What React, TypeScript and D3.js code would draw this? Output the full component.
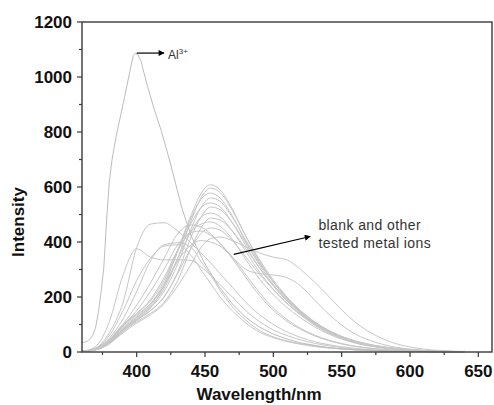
import React from "react"
import * as d3 from "d3"

// wavelength grid shared by the "blank and other ions" spectra
const wave = [360, 370, 380, 390, 400, 410, 420, 430, 440, 447, 454, 461, 470, 480, 490, 500, 510, 520, 530, 540, 550, 560, 575, 590, 605, 620, 640]

const otherSpectra = [
  [2, 8, 30, 75, 115, 160, 240, 370, 500, 575, 608, 590, 520, 420, 330, 255, 195, 145, 105, 75, 52, 36, 20, 11, 6, 3, 1],
  [2, 9, 35, 85, 125, 165, 230, 340, 480, 560, 596, 580, 515, 420, 335, 262, 200, 150, 110, 80, 56, 38, 21, 12, 6, 3, 1],
  [3, 10, 38, 90, 130, 175, 250, 365, 490, 555, 578, 560, 495, 400, 315, 245, 190, 142, 104, 75, 53, 37, 21, 12, 6, 3, 1],
  [2, 8, 32, 80, 120, 160, 220, 320, 450, 525, 560, 548, 490, 405, 325, 255, 195, 148, 108, 78, 55, 38, 22, 12, 6, 3, 1],
  [3, 12, 45, 100, 140, 185, 260, 370, 470, 525, 542, 528, 470, 385, 305, 240, 185, 140, 102, 73, 51, 35, 20, 11, 5, 3, 1],
  [2, 9, 35, 82, 118, 150, 200, 290, 420, 490, 527, 518, 470, 395, 320, 255, 198, 150, 110, 80, 57, 40, 23, 13, 7, 3, 1],
  [3, 11, 42, 95, 135, 175, 240, 340, 440, 490, 505, 492, 440, 365, 290, 228, 176, 134, 98, 70, 50, 34, 19, 10, 5, 2, 1],
  [2, 8, 30, 75, 110, 140, 180, 260, 380, 450, 487, 480, 440, 375, 305, 243, 190, 145, 107, 78, 56, 40, 23, 13, 7, 3, 1],
  [3, 12, 45, 100, 140, 190, 270, 370, 440, 465, 473, 458, 410, 335, 265, 208, 162, 124, 92, 66, 47, 32, 18, 10, 5, 2, 1],
  [2, 9, 33, 80, 115, 150, 200, 285, 380, 430, 451, 443, 405, 345, 282, 226, 178, 137, 102, 75, 54, 38, 22, 12, 6, 3, 1],
  [2, 8, 30, 70, 105, 135, 175, 240, 320, 380, 412, 418, 405, 382, 360, 345, 335, 300, 255, 205, 153, 108, 60, 30, 14, 6, 2],
  [2, 9, 35, 85, 125, 170, 240, 330, 390, 405, 400, 385, 345, 300, 285, 280, 270, 240, 190, 140, 98, 65, 35, 17, 8, 3, 1],
  [3, 14, 70, 180, 380, 465, 470, 440, 395, 360, 325, 285, 235, 180, 135, 100, 73, 53, 38, 27, 19, 13, 7, 4, 2, 1, 0],
  [2, 20, 110, 280, 375, 345, 335, 335, 333, 310, 280, 245, 200, 150, 110, 80, 60, 44, 32, 23, 16, 11, 6, 3, 2, 1, 0],
  [3, 12, 50, 120, 220, 330, 390, 397, 380, 330, 280, 225, 165, 115, 78, 55, 40, 30, 22, 16, 11, 8, 5, 3, 2, 1, 0],
  [2, 10, 40, 100, 170, 250, 340, 430, 462, 455, 430, 395, 340, 270, 205, 152, 112, 82, 59, 42, 29, 20, 11, 6, 3, 1, 0],
  [2, 9, 38, 95, 150, 220, 300, 390, 435, 440, 425, 395, 345, 280, 215, 160, 118, 86, 62, 44, 31, 21, 12, 6, 3, 1, 0],
  [3, 14, 60, 150, 260, 340, 385, 390, 350, 300, 250, 200, 150, 105, 72, 52, 38, 28, 20, 15, 11, 8, 5, 3, 2, 1, 0],
]

// Al3+ spectrum, own sampling (drawn with straight segments)
const alWave = [360, 362, 364, 366, 368, 370, 372, 374, 376, 378, 380, 382, 385, 390, 395, 397.5, 399, 401, 403, 408, 413, 418, 425, 433, 440, 450, 460, 470, 480, 490, 500, 510, 520, 540, 560, 580, 600, 620]
const alInt = [35, 36, 40, 48, 62, 90, 145, 220, 310, 480, 620, 700, 785, 900, 1020, 1078, 1087, 1080, 1060, 965, 880, 805, 680, 525, 420, 320, 240, 175, 125, 90, 65, 47, 33, 16, 8, 4, 2, 1]

const xTicks = [400, 450, 500, 550, 600, 650]
const xMinor = [375, 425, 475, 525, 575, 625]
const yTicks = [0, 200, 400, 600, 800, 1000, 1200]
const yMinor = [100, 300, 500, 700, 900, 1100]

const App = () => {
  const width = 494
  const height = 405
  const m = { left: 82, top: 22, right: 2, bottom: 53 }
  const font = "'Liberation Sans', Arial, sans-serif"
  const axisColor = "#3a3a3a"
  const lineColor = "#c6c6c6"

  const x = d3.scaleLinear().domain([360, 660]).range([m.left, width - m.right])
  const y = d3.scaleLinear().domain([0, 1200]).range([height - m.bottom, m.top])

  const smooth = d3
    .line<[number, number]>()
    .x((d) => x(d[0]))
    .y((d) => y(d[1]))
    .curve(d3.curveMonotoneX)

  const straight = d3
    .line<[number, number]>()
    .x((d) => x(d[0]))
    .y((d) => y(d[1]))

  const x0 = x.range()[0]
  const x1 = x.range()[1]
  const y0 = y.range()[0]
  const y1 = y.range()[1]

  return (
    <svg width={width} height={height} style={{ position: "absolute", left: 0, top: 0 }}>
      <defs>
        <marker id="arr" viewBox="0 0 10 10" refX="9" refY="5" markerWidth="7" markerHeight="6" orient="auto" markerUnits="userSpaceOnUse">
          <path d="M0,0 L10,5 L0,10 z" fill="#000" />
        </marker>
      </defs>

      <rect x={0} y={0} width={width} height={height} fill="#fff" />

      <g fill="none" stroke={lineColor} strokeWidth={1}>
        {otherSpectra.map((s, i) => (
          <path key={i} d={smooth(wave.map((w, j) => [w, s[j]]) as [number, number][]) || ""} />
        ))}
        <path stroke="#bcbcbc" d={straight(alWave.map((w, j) => [w, alInt[j]]) as [number, number][]) || ""} />
      </g>

      {/* frame */}
      <rect x={x0} y={y1} width={x1 - x0} height={y0 - y1} fill="none" stroke={axisColor} strokeWidth={1.4} />

      {/* ticks */}
      <g stroke={axisColor} strokeWidth={1.2}>
        {xTicks.map((t) => (
          <line key={t} x1={x(t)} x2={x(t)} y1={y0} y2={y0 + 5} />
        ))}
        {xMinor.map((t) => (
          <line key={t} x1={x(t)} x2={x(t)} y1={y0} y2={y0 + 3} />
        ))}
        {yTicks.map((t) => (
          <line key={t} x1={x0} x2={x0 - 5} y1={y(t)} y2={y(t)} />
        ))}
        {yMinor.map((t) => (
          <line key={t} x1={x0} x2={x0 - 3} y1={y(t)} y2={y(t)} />
        ))}
      </g>

      <g fontFamily={font} fontWeight="bold" fontSize={17} fill="#111">
        {xTicks.map((t) => (
          <text key={t} x={x(t)} y={y0 + 25} textAnchor="middle">
            {t}
          </text>
        ))}
        {yTicks.map((t) => (
          <text key={t} x={x0 - 10} y={y(t)} dy="0.36em" textAnchor="end">
            {t}
          </text>
        ))}
        <text x={259} y={400} textAnchor="middle">
          Wavelength/nm
        </text>
        <text transform="translate(24,222) rotate(-90)" textAnchor="middle">
          Intensity
        </text>
      </g>

      {/* annotations */}
      <line x1={x(400)} y1={y(1087)} x2={x(420)} y2={y(1087)} stroke="#000" strokeWidth={1.2} markerEnd="url(#arr)" />
      <text x={x(423)} y={y(1065)} fontFamily={font} fontSize={12} fill="#333">
        Al
        <tspan fontSize={8} dy={-5}>3+</tspan>
      </text>

      <line x1={x(471)} y1={y(355)} x2={x(527)} y2={y(420)} stroke="#000" strokeWidth={1.2} markerEnd="url(#arr)" />
      <g fontFamily={font} fontSize={14} fill="#333" letterSpacing={0.4}>
        <text x={x(533)} y={y(445)}>blank and other</text>
        <text x={x(533)} y={y(380)}>tested metal ions</text>
      </g>
    </svg>
  )
}

export default App
